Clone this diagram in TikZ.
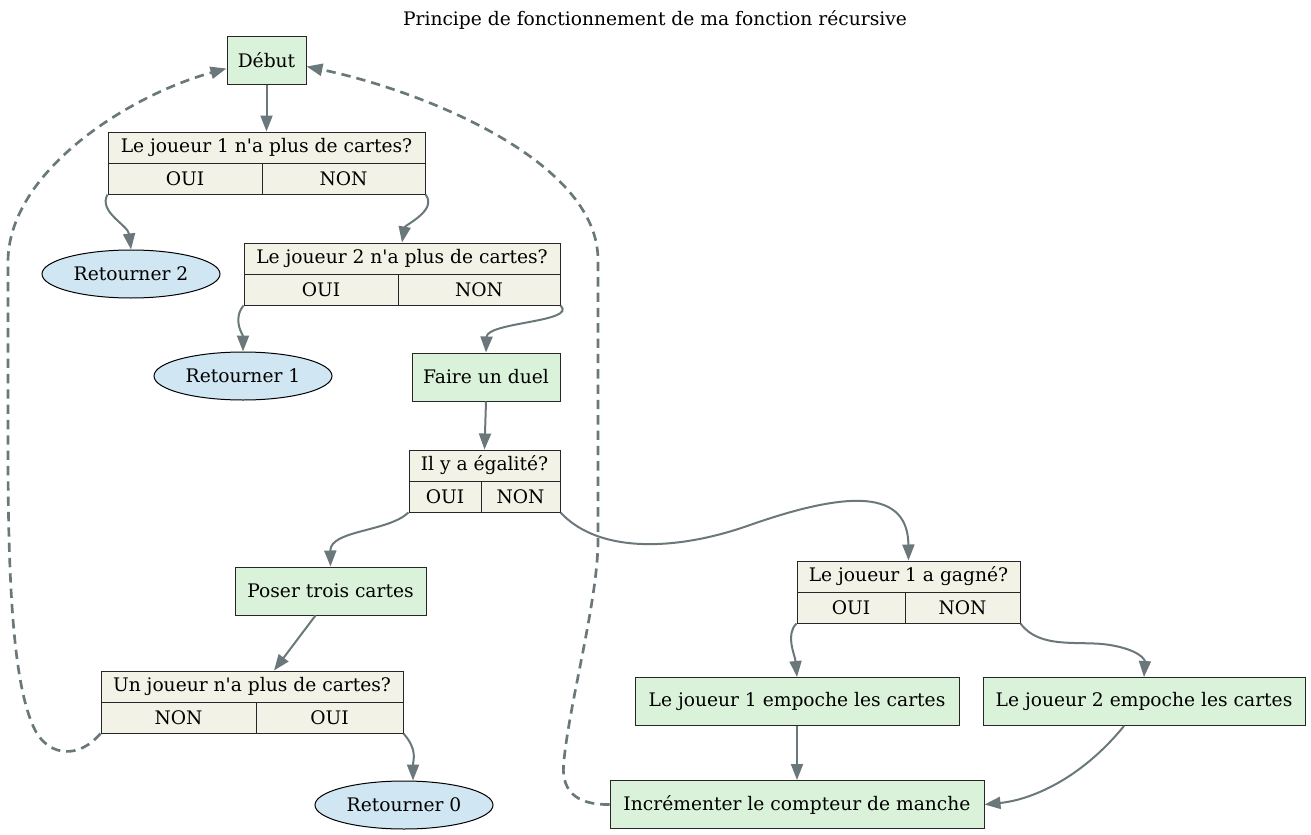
\documentclass[tikz,border=0pt]{standalone}
\usepackage{fontspec}
\setmainfont{DejaVu Serif}
\usetikzlibrary{arrows.meta,shapes.geometric}
\definecolor{gfill}{HTML}{DAF2DA}
\definecolor{rfill}{HTML}{F2F2E6}
\definecolor{efill}{HTML}{D0E6F2}
\definecolor{edgec}{HTML}{6A787B}
\newcommand{\apos}{\textquotesingle}
\begin{document}
\begin{tikzpicture}[x=0.75pt,y=-0.75pt,
  font=\fontsize{14pt}{17pt}\selectfont,
  box/.style={draw=black!85, line width=0.75pt, inner sep=0pt, minimum height=36pt},
  gbox/.style={box, fill=gfill},
  cell/.style={draw=black!85, line width=0.75pt, inner sep=0pt, fill=rfill, minimum height=23.25pt},
  oval/.style={ellipse, draw=black, line width=0.75pt, fill=efill, minimum width=133.5pt, minimum height=36pt, inner sep=0pt},
  arr/.style={draw=edgec, line width=1.5pt, -{Triangle[length=12pt,width=9pt]}},
  darr/.style={arr, line width=2pt, dash pattern=on 7pt off 4.5pt}]
\useasboundingbox (0,0) rectangle (1311,835);
\node (title) at (655,20) {Principe de fonctionnement de ma fonction récursive};

\node[gbox, minimum width=59.25pt] (debut) at (266.5,60) {Début};

\node[cell, minimum width=237.75pt] (q1) at (266.5,147.5) {Le joueur 1 n\apos a plus de cartes?};
\node[cell, minimum width=115.5pt] (q1o) at (185,178.5) {OUI};
\node[cell, minimum width=122.25pt] (q1n) at (343.5,178.5) {NON};

\node[oval] (r2) at (131,274) {Retourner 2};

\node[cell, minimum width=237pt] (q2) at (402,258.5) {Le joueur 2 n\apos a plus de cartes?};
\node[cell, minimum width=115.5pt] (q2o) at (321,289.5) {OUI};
\node[cell, minimum width=121.5pt] (q2n) at (479,289.5) {NON};

\node[oval] (r1) at (243,376) {Retourner 1};
\node[gbox, minimum width=111pt] (duel) at (486,377) {Faire un duel};

\node[cell, minimum width=113.25pt] (eg) at (484.5,465.5) {Il y a égalité?};
\node[cell, minimum width=54pt] (ego) at (445,496.5) {OUI};
\node[cell, minimum width=59.25pt] (egn) at (520.5,496.5) {NON};

\node[gbox, minimum width=143.25pt] (poser) at (330.5,591) {Poser trois cartes};

\node[cell, minimum width=226.5pt] (un) at (252,686.5) {Un joueur n\apos a plus de cartes?};
\node[cell, minimum width=116.25pt] (unn) at (178.5,717.5) {NON};
\node[cell, minimum width=110.25pt] (uno) at (329.5,717.5) {OUI};

\node[oval] (r0) at (404,805) {Retourner 0};

\node[cell, minimum width=167.25pt] (ga) at (908.5,576.5) {Le joueur 1 a gagné?};
\node[cell, minimum width=81pt] (gao) at (851,607.5) {OUI};
\node[cell, minimum width=86.25pt] (gan) at (962.5,607.5) {NON};

\node[gbox, minimum width=243pt] (j1) at (797,701.5) {Le joueur 1 empoche les cartes};
\node[gbox, minimum width=241.5pt] (j2) at (1144,701.5) {Le joueur 2 empoche les cartes};
\node[gbox, minimum width=280.5pt] (inc) at (797,804.5) {Incrémenter le compteur de manche};

\draw[arr] (debut.south) -- (q1.north);
\draw[arr] (q1o.south west) .. controls (98,212) and (128,225) .. (r2.north);
\draw[arr] (q1n.south east) .. controls (438,210) and (405,225) .. (q2.north);
\draw[arr] (q2o.south west) .. controls (232,320) and (243,335) .. (r1.north);
\draw[arr] (q2n.south east) .. controls (578,322) and (487,322) .. (duel.north);
\draw[arr] (duel.south) -- (eg.north);
\draw[arr] (ego.south west) .. controls (388,532) and (330,530) .. (poser.north);
\draw[arr] (egn.south east) .. controls (600,555) and (680,550) .. (750,525) .. controls (850,490) and (908,490) .. (ga.north);
\draw[arr] ([xshift=-11.25pt]poser.south) -- ([xshift=16.5pt]un.north);
\draw[arr] (uno.south east) .. controls (418,750) and (413,760) .. ([xshift=6.75pt]r0.north);
\draw[darr] (unn.south west) .. controls (80,758) and (50,758) .. (35,730) .. controls (15,690) and (8,600) .. (8,450) -- (8,260) .. controls (10,170) and (130,95) .. ([yshift=12pt]debut.south west);
\draw[darr] (inc.west) .. controls (575,805) and (560,790) .. (564,760) .. controls (570,700) and (598,600) .. (598,540) -- (598,260) .. controls (598,160) and (420,90) .. ([yshift=13.5pt]debut.south east);
\draw[arr] (gao.south west) .. controls (785,635) and (795,655) .. (j1.north);
\draw[arr] (gan.south east) .. controls (1040,650) and (1080,640) .. (1110,645) .. controls (1140,650) and (1145,660) .. (j2.north);
\draw[arr] (j1.south) -- (inc.north);
\draw[arr] ([xshift=-15pt]j2.south) .. controls (1080,780) and (1030,800) .. (inc.east);
\end{tikzpicture}
\end{document}
